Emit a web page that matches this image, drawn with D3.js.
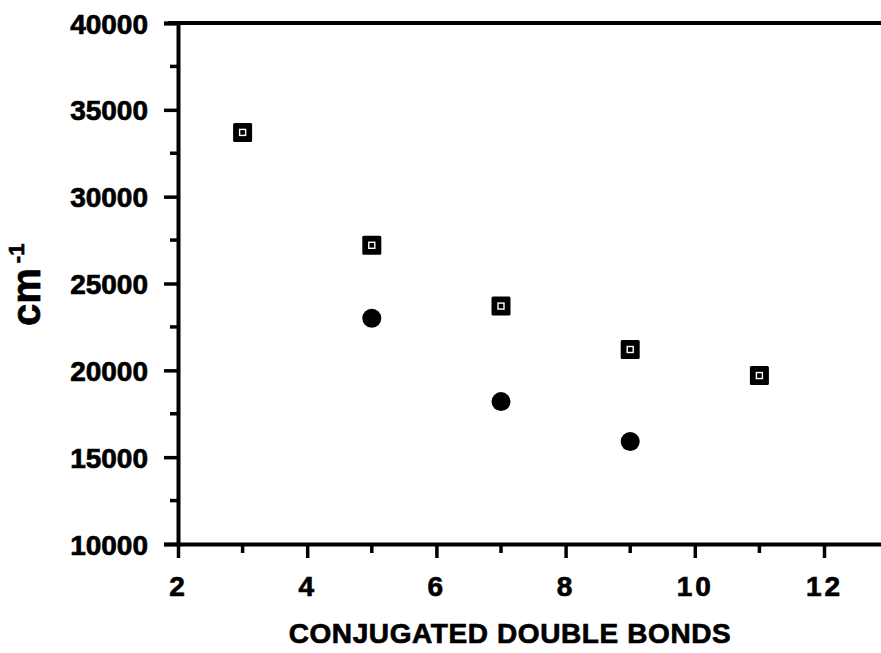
<!DOCTYPE html>
<html>
<head>
<meta charset="utf-8">
<script src="https://cdn.jsdelivr.net/npm/d3@7"></script>
<style>
  body { margin: 0; background: #fff; }
  svg { display: block; }
  text { font-family: "Liberation Sans", Arial, sans-serif; font-weight: bold; fill: #000; }
</style>
</head>
<body>
<svg id="chart" width="881" height="653"></svg>
<script>
// values
var xTicks = [2, 4, 6, 8, 10, 12];
var xMinor = [3, 5, 7, 9, 11];
var yTicks = [10000, 15000, 20000, 25000, 30000, 35000, 40000];
var yMinor = [12500, 17500, 22500, 27500, 32500, 37500];

var squareX = [3, 5, 7, 9, 11];
var squareY = [33700, 27200, 23700, 21200, 19700];
var circleX = [5, 7, 9];
var circleY = [23000, 18200, 15900];

var svg = d3.select('#chart');

var x = d3.scaleLinear().domain([2, 13]).range([178, 888.6]);
var y = d3.scaleLinear().domain([10000, 40000]).range([544, 23]);

function heavy(sel) {
  // scanned print looks heavier than plain bold
  sel.style('font-family', '"Liberation Sans", Arial, sans-serif')
    .style('font-weight', 'bold')
    .attr('fill', '#000')
    .attr('stroke', '#000')
    .attr('stroke-width', 0.7);
}

// top frame line (extends left like a tick)
svg.append('line')
  .attr('x1', x(2) - 10).attr('x2', x(13))
  .attr('y1', y(40000)).attr('y2', y(40000))
  .attr('stroke', '#000').attr('stroke-width', 4);

// y axis
var yAxis = svg.append('g')
  .attr('transform', 'translate(' + x(2) + ',0)')
  .call(d3.axisLeft(y).tickValues(yTicks).tickSize(14).tickPadding(16).tickFormat(d3.format('d')));
yAxis.select('.domain').attr('stroke-width', 4);
yAxis.selectAll('.tick line').attr('stroke-width', 3.5);
yAxis.selectAll('.tick text')
  .style('font-size', '28px')
  .attr('dy', '0.36em')
  .call(heavy);

yAxis.selectAll('.minor')
  .data(yMinor)
  .enter().append('line')
  .attr('x1', -8).attr('x2', 0)
  .attr('y1', function(d) { return y(d); })
  .attr('y2', function(d) { return y(d); })
  .attr('stroke', '#000').attr('stroke-width', 3.5);

// x axis
var xAxis = svg.append('g')
  .attr('transform', 'translate(0,' + y(10000) + ')')
  .call(d3.axisBottom(x).tickValues(xTicks).tickSize(14).tickSizeOuter(0).tickFormat(d3.format('d')));
xAxis.select('.domain').attr('stroke-width', 4);
xAxis.selectAll('.tick line').attr('stroke-width', 3.5);
xAxis.selectAll('.tick text')
  .style('font-size', '28px')
  .style('letter-spacing', '3px')
  .attr('y', 52).attr('dy', 0)
  .call(heavy);

xAxis.selectAll('.minor')
  .data(xMinor)
  .enter().append('line')
  .attr('x1', function(d) { return x(d); })
  .attr('x2', function(d) { return x(d); })
  .attr('y1', 0).attr('y2', 9)
  .attr('stroke', '#000').attr('stroke-width', 3.5);

// axis titles
svg.append('text')
  .attr('x', 510).attr('y', 643)
  .attr('text-anchor', 'middle')
  .style('font-size', '28px')
  .style('letter-spacing', '0.6px')
  .text('CONJUGATED DOUBLE BONDS')
  .call(heavy);

var yTitle = svg.append('text')
  .attr('transform', 'translate(40,326) rotate(-90)')
  .style('font-size', '40px')
  .call(heavy);
yTitle.append('tspan').text('cm');
yTitle.append('tspan')
  .attr('dy', -16)
  .attr('dx', 5)
  .style('font-size', '22px')
  .text('-1');

// squares
var sq = svg.append('g').selectAll('g')
  .data(squareX.map(function(d, i) { return [d, squareY[i]]; }))
  .enter().append('g')
  .attr('transform', function(d) { return 'translate(' + x(d[0]) + ',' + y(d[1]) + ')'; });
sq.append('rect')
  .attr('x', -9.5).attr('y', -9.5).attr('width', 19).attr('height', 19)
  .attr('rx', 1.5)
  .attr('fill', '#000');
sq.append('rect')
  .attr('x', -3).attr('y', -3).attr('width', 6).attr('height', 6)
  .attr('fill', 'none').attr('stroke', '#fff').attr('stroke-width', 1.4);

// circles
svg.append('g').selectAll('circle')
  .data(circleX.map(function(d, i) { return [d, circleY[i]]; }))
  .enter().append('circle')
  .attr('cx', function(d) { return x(d[0]); })
  .attr('cy', function(d) { return y(d[1]); })
  .attr('r', 9.5)
  .attr('fill', '#000');
</script>
</body>
</html>
